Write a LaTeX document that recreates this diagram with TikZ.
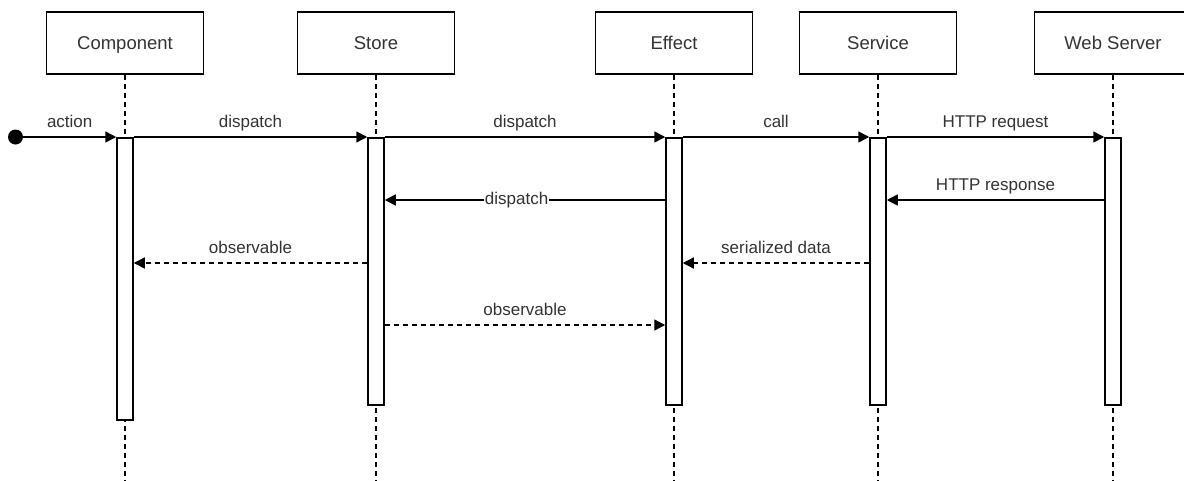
\documentclass[tikz,border=0pt]{standalone}
\usepackage{fontspec}
\setmainfont{Liberation Sans}
\usetikzlibrary{arrows.meta,positioning}

\begin{document}
\begin{tikzpicture}[x=1pt,y=-1pt,>={Triangle[length=11pt,width=11pt]},
    actor/.style={draw,line width=1.5pt,minimum width=157pt,minimum height=62pt,text height=17pt,text depth=4pt,font=\fontsize{18.5}{22}\selectfont,text=black!80},
    bar/.style={draw,fill=white,line width=1.5pt,minimum width=16pt,inner sep=0pt,anchor=north},
    lifeline/.style={line width=1.3pt,dash pattern=on 5pt off 4pt},
    msg/.style={->,line width=1.5pt},
    reply/.style={->,line width=1.3pt,dash pattern=on 5pt off 4pt},
    lbl/.style={above=4.5pt,inner sep=0pt,text depth=4pt,font=\fontsize{17}{20}\selectfont,text=black!80}]
    \useasboundingbox (0,0) rectangle (1184,480);

    % participants
    \node[actor] (comp) at (125,43) {Component};
    \node[actor] (store) at (376,43) {Store};
    \node[actor] (effect) at (674,43) {Effect};
    \node[actor] (service) at (878,43) {Service};
    \node[actor] (web) at (1113,43) {Web Server};

    \foreach \n in {comp,store,effect,service,web}
        \draw[lifeline] (\n.south) -- (\n.south |- 0,480);

    % message rows
    \coordinate (r1) at (0,137);
    \coordinate (r2) at (0,200);
    \coordinate (r3) at (0,263);
    \coordinate (r4) at (0,325);

    % activation bars
    \node[bar,minimum height=282pt] (cbar) at (comp.south |- r1) {};
    \node[bar,minimum height=267pt] (sbar) at (store.south |- r1) {};
    \node[bar,minimum height=267pt] (ebar) at (effect.south |- r1) {};
    \node[bar,minimum height=267pt] (svbar) at (service.south |- r1) {};
    \node[bar,minimum height=267pt] (wbar) at (web.south |- r1) {};

    \node[circle,fill,inner sep=0pt,minimum size=15pt] (start) at (15.5,137) {};

    \draw[msg] (start) -- node[lbl] {action} (cbar.west |- r1);
    \draw[msg] (cbar.east |- r1) -- node[lbl] {dispatch} (sbar.west |- r1);
    \draw[msg] (sbar.east |- r1) -- node[lbl] {dispatch} (ebar.west |- r1);
    \draw[msg] (ebar.east |- r1) -- node[lbl] {call} (svbar.west |- r1);
    \draw[msg] (svbar.east |- r1) -- node[lbl] {HTTP request} (wbar.west |- r1);
    \draw[msg] (wbar.west |- r2) -- node[lbl] {HTTP response} (svbar.east |- r2);
    \draw[msg] (ebar.west |- r2) -- node[pos=0.53,fill=white,inner sep=1pt,font=\fontsize{17}{20}\selectfont,text=black!80] {dispatch} (sbar.east |- r2);
    \draw[reply] (sbar.west |- r3) -- node[lbl] {observable} (cbar.east |- r3);
    \draw[reply] (svbar.west |- r3) -- node[lbl] {serialized data} (ebar.east |- r3);
    \draw[reply] (sbar.east |- r4) -- node[lbl] {observable} (ebar.west |- r4);
\end{tikzpicture}
\end{document}
